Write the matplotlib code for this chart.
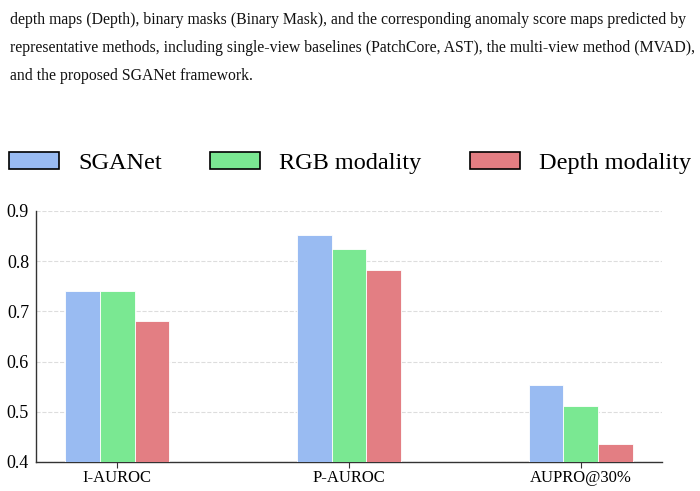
import numpy as np
import matplotlib
matplotlib.use("Agg")
import matplotlib.pyplot as plt
from matplotlib.patches import Patch

plt.rcParams["font.family"] = ["Liberation Serif", "DejaVu Serif"]

metrics = ["I-AUROC", "P-AUROC", "AUPRO@30%"]
sganet = [0.741, 0.853, 0.553]
rgb = [0.741, 0.824, 0.512]
depth = [0.681, 0.782, 0.436]

series = [("SGANet", sganet, "#99bbf2"),
          ("RGB modality", rgb, "#7ae892"),
          ("Depth modality", depth, "#e37e83")]

caption = [
    "depth maps (Depth), binary masks (Binary Mask), and the corresponding anomaly score maps predicted by",
    "representative methods, including single-view baselines (PatchCore, AST), the multi-view method (MVAD),",
    "and the proposed SGANet framework.",
]

fig = plt.figure(figsize=(7, 4.91), dpi=100)
for i, line in enumerate(caption):
    fig.text(10 / 700, 1 - (20 + 28 * i) / 491, line, fontsize=11.35, va="center", ha="left", color="#111111")

ax = fig.add_axes([36 / 700, 1 - 462 / 491, 626 / 700, 251 / 491])
x = np.arange(len(metrics))
w = 0.15
for k, (name, vals, col) in enumerate(series):
    ax.bar(x + (k - 1) * w, vals, w, color=col, edgecolor="white", linewidth=0.6, label=name, zorder=3)

ax.set_ylim(0.4, 0.9)
ax.set_xlim(-0.35, 2.35)
ax.set_xticks(x)
ax.set_xticklabels(metrics, fontsize=12)
ax.set_yticks([0.4, 0.5, 0.6, 0.7, 0.8, 0.9])
ax.set_yticklabels(["0.4", "0.5", "0.6", "0.7", "0.8", "0.9"], fontsize=13)
ax.yaxis.grid(True, linestyle="--", color="#dddddd", linewidth=0.8, zorder=0)
ax.spines["top"].set_visible(False)
ax.spines["right"].set_visible(False)
for s in ["left", "bottom"]:
    ax.spines[s].set_color("#333333")
    ax.spines[s].set_linewidth(1.0)
ax.tick_params(axis="y", length=0, pad=5)
ax.tick_params(axis="x", length=4, color="#333333", pad=2)

handles = [Patch(facecolor=col, edgecolor="black", linewidth=1.2, label=name) for name, _, col in series]
leg = fig.legend(handles=handles, loc="center", bbox_to_anchor=(0.5, 1 - 163 / 491), ncol=3,
                 frameon=False, fontsize=17.5, handlelength=2.05, handleheight=0.74,
                 columnspacing=2.0, handletextpad=0.78)

fig.savefig("out.png", dpi=100)
